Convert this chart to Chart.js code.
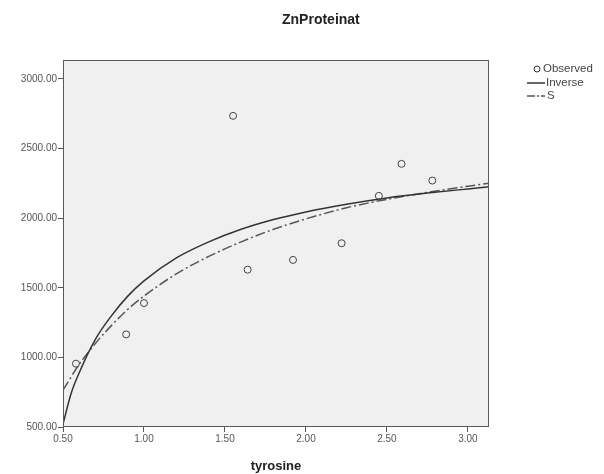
<!DOCTYPE html>
<html>
<head>
<meta charset="utf-8">
<title>ZnProteinat</title>
<script src="https://cdn.jsdelivr.net/npm/chart.js@4.4.1/dist/chart.umd.min.js"></script>
<style>
  html, body { margin: 0; padding: 0; background: #fff; }
  #wrap { width: 604px; height: 474px; position: relative; }
</style>
</head>
<body>
<div id="wrap"><canvas id="chart" width="604" height="474"></canvas></div>
<script>
// ===========================
// Data
// ===========================

// observed points: tyrosine vs ZnProteinat
const obsX = [0.58, 0.89, 1.00, 1.55, 1.64, 1.92, 2.22, 2.45, 2.59, 2.78];
const obsY = [955, 1165, 1390, 2735, 1630, 1700, 1820, 2160, 2390, 2270];

// fitted curve "Inverse" (solid)
const invX = [0.50, 0.55, 0.60, 0.70, 0.80, 0.90, 1.00, 1.20, 1.40, 1.60, 1.80, 2.00, 2.25, 2.50, 2.75, 3.00, 3.13];
const invY = [520, 740, 890, 1130, 1300, 1440, 1550, 1715, 1830, 1920, 1990, 2045, 2100, 2145, 2180, 2210, 2225];

// fitted curve "S" (dash-dot)
const sX = [0.50, 0.60, 0.70, 0.80, 0.90, 1.00, 1.20, 1.40, 1.60, 1.80, 2.00, 2.25, 2.50, 2.75, 3.00, 3.13];
const sY = [765, 950, 1100, 1230, 1345, 1440, 1600, 1725, 1830, 1920, 1995, 2075, 2135, 2185, 2230, 2250];

// axis ticks
const xTicks = [0.5, 1.0, 1.5, 2.0, 2.5, 3.0];
const yTicks = [500, 1000, 1500, 2000, 2500, 3000];

const legendLabels = ['Observed', 'Inverse', 'S'];
const chartTitle = 'ZnProteinat';
const xTitle = 'tyrosine';

const FONT = '"Liberation Sans", Arial, sans-serif';

const toPts = (xs, ys) => xs.map((x, i) => ({ x, y: ys[i] }));

// plot background + frame, title and legend
const decor = {
  id: 'decor',
  beforeDraw(chart) {
    const { ctx, chartArea: a } = chart;
    ctx.save();
    ctx.fillStyle = '#f0f0f0';
    ctx.fillRect(a.left, a.top, a.right - a.left, a.bottom - a.top);
    ctx.restore();
  },
  afterDraw(chart) {
    const { ctx, chartArea: a } = chart;
    ctx.save();
    ctx.strokeStyle = '#5a5a5a';
    ctx.lineWidth = 1;
    ctx.strokeRect(a.left + 0.5, a.top + 0.5, a.right - a.left - 1, a.bottom - a.top - 1);

    // title
    ctx.fillStyle = '#222';
    ctx.font = 'bold 14px ' + FONT;
    ctx.textAlign = 'left';
    ctx.textBaseline = 'middle';
    ctx.fillText(chartTitle, 282, 20);

    // legend
    ctx.font = '11.5px ' + FONT;
    ctx.fillStyle = '#444';
    ctx.strokeStyle = '#333';
    const rows = [69, 83, 96];
    ctx.beginPath();
    ctx.arc(537, rows[0], 3, 0, Math.PI * 2);
    ctx.stroke();
    ctx.fillText(legendLabels[0], 543, rows[0]);

    ctx.lineWidth = 1.5;
    ctx.beginPath();
    ctx.moveTo(527, rows[1]);
    ctx.lineTo(545, rows[1]);
    ctx.stroke();
    ctx.fillText(legendLabels[1], 546, rows[1]);

    ctx.strokeStyle = '#555';
    ctx.setLineDash([8, 2, 2, 2]);
    ctx.beginPath();
    ctx.moveTo(527, rows[2]);
    ctx.lineTo(545, rows[2]);
    ctx.stroke();
    ctx.setLineDash([]);
    ctx.fillText(legendLabels[2], 547, rows[2]);
    ctx.restore();
  }
};

new Chart(document.getElementById('chart'), {
  type: 'scatter',
  data: {
    datasets: [
      {
        label: legendLabels[0],
        data: toPts(obsX, obsY),
        pointStyle: 'circle',
        pointRadius: 3.5,
        pointBorderWidth: 1,
        pointBorderColor: '#444',
        pointBackgroundColor: 'rgba(0,0,0,0)',
        showLine: false,
        order: 0
      },
      {
        label: legendLabels[1],
        data: toPts(invX, invY),
        showLine: true,
        borderColor: '#333',
        borderWidth: 1.5,
        pointRadius: 0,
        cubicInterpolationMode: 'monotone',
        order: 1
      },
      {
        label: legendLabels[2],
        data: toPts(sX, sY),
        showLine: true,
        borderColor: '#555',
        borderWidth: 1.5,
        borderDash: [10, 3, 2, 3],
        pointRadius: 0,
        cubicInterpolationMode: 'monotone',
        order: 2
      }
    ]
  },
  options: {
    responsive: false,
    animation: false,
    layout: { padding: { top: 60, right: 115, bottom: 0, left: 0 } },
    plugins: {
      legend: { display: false },
      tooltip: { enabled: false },
      title: { display: false }
    },
    scales: {
      x: {
        type: 'linear',
        min: 0.5,
        max: 3.13,
        border: { display: false },
        grid: { drawOnChartArea: false, drawTicks: true, tickLength: 5, color: '#555' },
        ticks: {
          color: '#555',
          font: { family: FONT, size: 10 },
          padding: 1,
          maxRotation: 0,
          autoSkip: false,
          callback: v => v.toFixed(2)
        },
        afterBuildTicks: s => { s.ticks = xTicks.map(value => ({ value })); },
        title: {
          display: true,
          text: xTitle,
          color: '#222',
          font: { family: FONT, size: 13, weight: 'bold' },
          padding: { top: 5, bottom: 0 }
        },
        afterFit: s => { s.height = 47; }
      },
      y: {
        type: 'linear',
        min: 500,
        max: 3136,
        border: { display: false },
        grid: { drawOnChartArea: false, drawTicks: true, tickLength: 5, color: '#555' },
        ticks: {
          color: '#555',
          font: { family: FONT, size: 10 },
          padding: 1,
          autoSkip: false,
          callback: v => v.toFixed(2)
        },
        afterBuildTicks: s => { s.ticks = yTicks.map(value => ({ value })); },
        afterFit: s => { s.width = 63; }
      }
    }
  },
  plugins: [decor]
});
</script>
</body>
</html>
